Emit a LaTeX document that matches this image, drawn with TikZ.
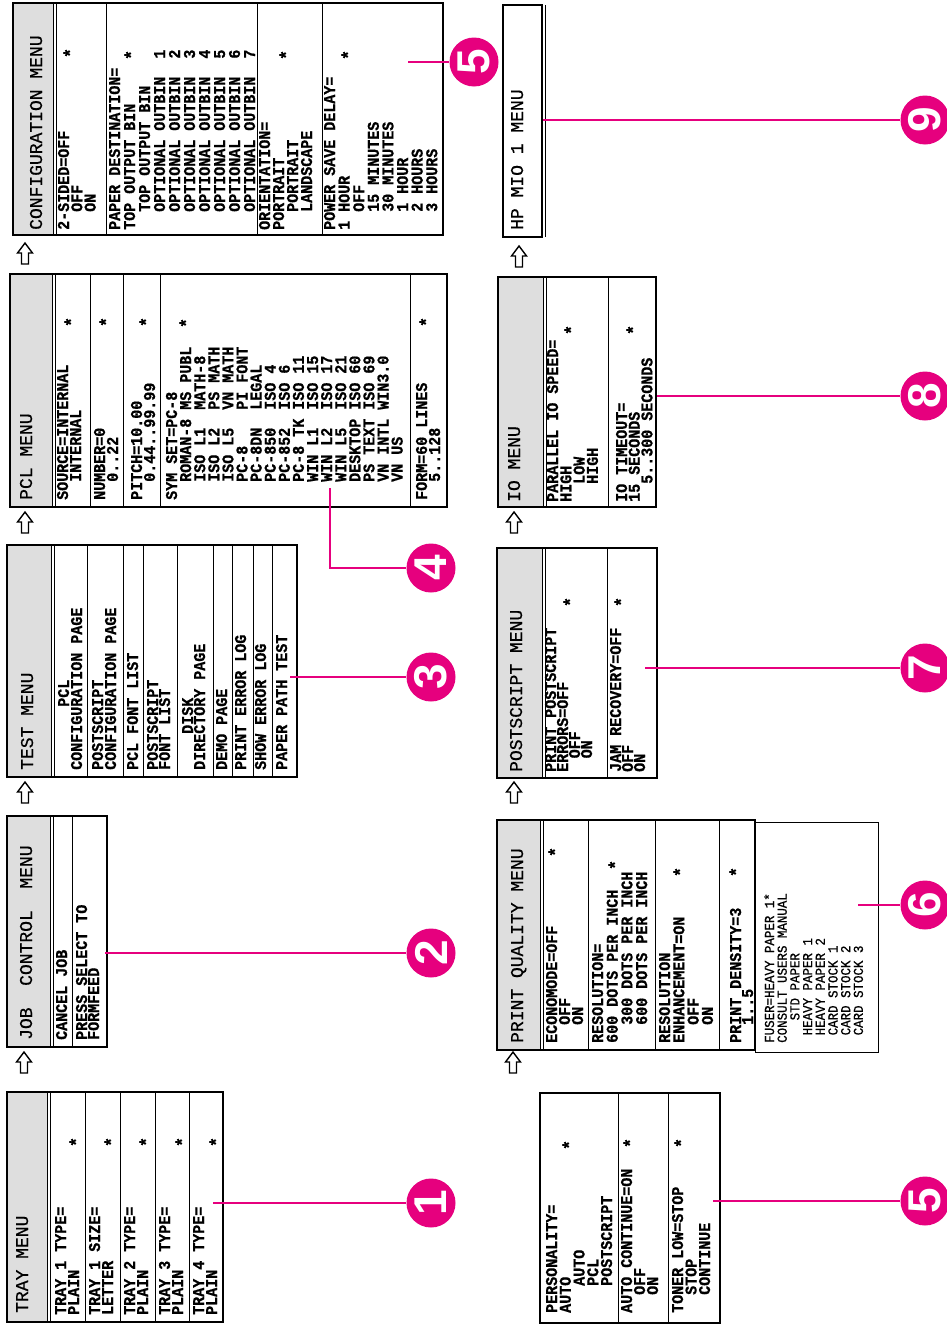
\documentclass[tikz,border=0pt]{standalone}
\usepackage{fontspec}
\setmonofont{Liberation Mono}
\newfontfamily\itemfont{Liberation Mono}[FakeBold=0.7, FakeStretch=0.91]
\newfontfamily\titlefont{Liberation Mono}[FakeBold=0.5]
\newfontfamily\numfont{Liberation Sans}
\definecolor{mag}{RGB}{230,0,126}
\newcommand\ind[1]{\hspace*{#1\fontcharwd\font`0}}
\newcommand\twocol[2]{\makebox[8\fontcharwd\font`0][l]{#1}#2}
\newcommand\rt[1]{\vtop{\lineskip=0pt\lineskiplimit=-\maxdimen\halign{##\hfil\cr#1\crcr}}}
\newcommand\menubox[5]{%
  \fill[shd] (#1,#2) rectangle (#5,#4);
  \draw[sepl] (#5,#2) -- (#5,#4);
  \draw[sepl] (#5+3,#2) -- (#5+3,#4);
  \draw[box] (#1,#2) rectangle (#3,#4);}
\newcommand\seps[3]{\foreach \s in {#3} {\draw[sepl] (\s,#1) -- (\s,#2);}}
\newcommand\uparr[2]{\draw[arr] (#1,#2) -- ++(7.5,10) -- ++(-4,0) -- ++(0,11) -- ++(-7,0) -- ++(0,-11) -- ++(-4,0) -- cycle;}
\begin{document}
\begin{tikzpicture}[x=1pt,y=-1pt,
  box/.style={draw=black, line width=1.3pt},
  sepl/.style={draw=black, line width=0.9pt},
  shd/.style={fill=black!13},
  ttl/.style={font=\titlefont\fontsize{18}{18}\selectfont, anchor=base west, rotate=90, inner sep=0pt},
  itm/.style={font=\itemfont\bfseries\fontsize{16.5}{#1}\selectfont, anchor=base west, rotate=90, inner sep=0pt},
  itm/.default=13.3,
  fus/.style={font=\itemfont\fontsize{13.7}{12.7}\selectfont, anchor=base west, rotate=90, inner sep=0pt},
  st/.style={font=\itemfont\bfseries\fontsize{18}{18}\selectfont, rotate=90, inner sep=0pt},
  num/.style={circle, fill=mag, minimum size=49pt, inner sep=0pt, text=white, font=\numfont\bfseries\fontsize{46}{46}\selectfont, rotate=90},
  lead/.style={draw=mag, line width=1.1pt},
  arr/.style={draw=black, line width=1.4pt, line join=miter}]
\useasboundingbox (0,0) rectangle (946,1325);
\fill[white] (0,0) rectangle (946,1325);

% ---------------- boxes ----------------
\menubox{7}{1092}{223}{1322}{47}
\seps{1092}{1322}{85,120,155,189}
\menubox{7}{816}{107}{1047}{50}
\seps{816}{1047}{72}
\menubox{7}{545}{297}{777}{51}
\seps{545}{777}{87,123,143,177,213,232,253,272}
\menubox{10}{274}{447}{507}{52}
\seps{274}{507}{90,123,160,410}
\menubox{13}{3}{443}{235}{53}
\seps{3}{235}{106,257,322}

\draw[box] (540,1093) rectangle (720,1323);
\seps{1093}{1323}{618,668}
\menubox{497}{820}{755}{1050}{540}
\seps{820}{1050}{588,655,719}
\draw[sepl] (755,822) rectangle (878,1052);
\menubox{497}{548}{657}{778}{542}
\seps{548}{778}{607}
\menubox{498}{277}{656}{507}{543}
\seps{277}{507}{608}
\draw[box] (503,5) rectangle (542,237);
\draw[sepl] (545,5) -- (545,237);

% ---------------- arrows ----------------
\uparr{24}{1052}
\uparr{25}{782}
\uparr{25}{512}
\uparr{25}{243}
\uparr{513}{1052}
\uparr{514}{782}
\uparr{514}{512}
\uparr{519}{246}

% ---------------- TRAY MENU ----------------
\node[ttl] (trayT) at (28,1313) {TRAY MENU};
\node[itm=13] (tray1) at (66,1315) {\rt{TRAY 1 TYPE=\cr PLAIN}};
\node[itm=13] (tray2) at (100,1315) {\rt{TRAY 1 SIZE=\cr LETTER}};
\node[itm=13] (tray3) at (135,1315) {\rt{TRAY 2 TYPE=\cr PLAIN}};
\node[itm=13] (tray4) at (170,1315) {\rt{TRAY 3 TYPE=\cr PLAIN}};
\node[itm=13] (tray5) at (204,1315) {\rt{TRAY 4 TYPE=\cr PLAIN}};
\node[st] (trayS1) at (76,1142) {*};
\node[st] (trayS2) at (111,1142) {*};
\node[st] (trayS3) at (146,1142) {*};
\node[st] (trayS4) at (182,1142) {*};
\node[st] (trayS5) at (216,1142) {*};

% ---------------- JOB CONTROL MENU ----------------
\node[ttl] (jobT) at (32,1040) {JOB\ind{2}CONTROL\ind{2}MENU};
\node[itm] (job1) at (67,1040) {\rt{CANCEL JOB}};
\node[itm=12] (job2) at (87,1040) {\rt{PRESS SELECT TO\cr FORMFEED}};

% ---------------- TEST MENU ----------------
\node[ttl] (testT) at (33,770) {TEST MENU};
\node[itm=13] (test1) at (69,770) {\rt{\ind{7}PCL\cr CONFIGURATION PAGE}};
\node[itm=13] (test2) at (103,770) {\rt{POSTSCRIPT\cr CONFIGURATION PAGE}};
\node[itm] (test3) at (138,770) {\rt{PCL FONT LIST}};
\node[itm=12] (test4) at (158,770) {\rt{POSTSCRIPT\cr FONT LIST}};
\node[itm=12] (test5) at (193,770) {\rt{\ind{4}DISK\cr DIRECTORY PAGE}};
\node[itm] (test6) at (227,770) {\rt{DEMO PAGE}};
\node[itm] (test7) at (246,770) {\rt{PRINT ERROR LOG}};
\node[itm] (test8) at (266,770) {\rt{SHOW ERROR LOG}};
\node[itm] (test9) at (287,770) {\rt{PAPER PATH TEST}};

% ---------------- PCL MENU ----------------
\node[ttl] (pclT) at (32,500) {PCL MENU};
\node[itm=13] (pcl1) at (68,500) {\rt{SOURCE=INTERNAL\cr \ind{2}INTERNAL}};
\node[itm=13] (pcl2) at (105,500) {\rt{NUMBER=0\cr \ind{2}0..22}};
\node[itm=13] (pcl3) at (142,500) {\rt{PITCH=10.00\cr \ind{2}0.44..99.99}};
\node[itm=14.1] (pcl4) at (177,500) {\rt{SYM SET=PC-8\cr
 \ind{2}\twocol{ROMAN-8}{MS PUBL}\cr
 \ind{2}\twocol{ISO L1}{MATH-8}\cr
 \ind{2}\twocol{ISO L2}{PS MATH}\cr
 \ind{2}\twocol{ISO L5}{VN MATH}\cr
 \ind{2}\twocol{PC-8}{PI FONT}\cr
 \ind{2}\twocol{PC-8DN}{LEGAL}\cr
 \ind{2}\twocol{PC-850}{ISO 4}\cr
 \ind{2}\twocol{PC-852}{ISO 6}\cr
 \ind{2}\twocol{PC-8 TK}{ISO 11}\cr
 \ind{2}\twocol{WIN L1}{ISO 15}\cr
 \ind{2}\twocol{WIN L2}{ISO 17}\cr
 \ind{2}\twocol{WIN L5}{ISO 21}\cr
 \ind{2}\twocol{DESKTOP}{ISO 60}\cr
 \ind{2}\twocol{PS TEXT}{ISO 69}\cr
 \ind{2}\twocol{VN INTL}{WIN3.0}\cr
 \ind{2}VN US}};
\node[itm=13] (pcl5) at (427,500) {\rt{FORM=60 LINES\cr \ind{2}5..128}};
\node[st] (pclS1) at (71,322) {*};
\node[st] (pclS2) at (106,322) {*};
\node[st] (pclS3) at (146,322) {*};
\node[st] (pclS4) at (186,323) {*};
\node[st] (pclS5) at (426,322) {*};

% ---------------- CONFIGURATION MENU ----------------
\node[ttl] (cfgT) at (42,230) {CONFIGURATION MENU};
\node[itm=13.3] (cfg1) at (69,230) {\rt{2-SIDED=OFF\cr \ind{2}OFF\cr \ind{2}ON}};
\node[itm=15] (cfg2) at (120,230) {\rt{PAPER DESTINATION=\cr TOP OUTPUT BIN\cr \ind{2}TOP OUTPUT BIN\cr
 \ind{2}OPTIONAL OUTBIN\ind{2}1\cr \ind{2}OPTIONAL OUTBIN\ind{2}2\cr \ind{2}OPTIONAL OUTBIN\ind{2}3\cr
 \ind{2}OPTIONAL OUTBIN\ind{2}4\cr \ind{2}OPTIONAL OUTBIN\ind{2}5\cr \ind{2}OPTIONAL OUTBIN\ind{2}6\cr
 \ind{2}OPTIONAL OUTBIN\ind{2}7}};
\node[itm=14] (cfg3) at (270,230) {\rt{ORIENTATION=\cr PORTRAIT\cr \ind{2}PORTRAIT\cr \ind{2}LANDSCAPE}};
\node[itm=14.6] (cfg4) at (335,230) {\rt{POWER SAVE DELAY=\cr 1 HOUR\cr \ind{2}OFF\cr \ind{2}15 MINUTES\cr
 \ind{2}30 MINUTES\cr \ind{2}1 HOUR\cr \ind{2}2 HOURS\cr \ind{2}3 HOURS}};
\node[st] (cfgS1) at (70,53) {*};
\node[st] (cfgS2) at (131,55) {*};
\node[st] (cfgS3) at (286,55) {*};
\node[st] (cfgS4) at (348,55) {*};

% ---------------- personality box ----------------
\node[itm=13.75] (per1) at (557,1313) {\rt{PERSONALITY=\cr AUTO\cr \ind{3}AUTO\cr \ind{3}PCL\cr \ind{3}POSTSCRIPT}};
\node[itm=13] (per2) at (632,1313) {\rt{AUTO CONTINUE=ON\cr \ind{2}OFF\cr \ind{2}ON}};
\node[itm=13.5] (per3) at (683,1313) {\rt{TONER LOW=STOP\cr \ind{2}STOP\cr \ind{2}CONTINUE}};
\node[st] (perS1) at (569,1145) {*};
\node[st] (perS2) at (630,1143) {*};
\node[st] (perS3) at (681,1143) {*};

% ---------------- PRINT QUALITY MENU ----------------
\node[ttl] (pqT) at (523,1043) {PRINT QUALITY MENU};
\node[itm=13] (pq1) at (557,1043) {\rt{ECONOMODE=OFF\cr \ind{2}OFF\cr \ind{2}ON}};
\node[itm=14.7] (pq2) at (603,1043) {\rt{RESOLUTION=\cr 600 DOTS PER INCH\cr \ind{2}300 DOTS PER INCH\cr \ind{2}600 DOTS PER INCH}};
\node[itm=14.3] (pq3) at (670,1043) {\rt{RESOLUTION\cr ENHANCEMENT=ON\cr \ind{2}OFF\cr \ind{2}ON}};
\node[itm=12] (pq4) at (741,1043) {\rt{PRINT DENSITY=3\cr \ind{2}1..5}};
\node[fus] (pq5) at (774,1043) {\rt{FUSER=HEAVY PAPER 1*\cr CONSULT USERS MANUAL\cr \ind{3}STD PAPER\cr
 \ind{1}HEAVY PAPER 1\cr \ind{1}HEAVY PAPER 2\cr \ind{1}CARD STOCK 1\cr \ind{1}CARD STOCK 2\cr \ind{1}CARD STOCK 3}};
\node[st] (pqS1) at (555,852) {*};
\node[st] (pqS2) at (615,865) {*};
\node[st] (pqS3) at (680,872) {*};
\node[st] (pqS4) at (736,872) {*};

% ---------------- POSTSCRIPT MENU ----------------
\node[ttl] (psT) at (522,772) {POSTSCRIPT MENU};
\node[itm=12] (ps1) at (556,772) {\rt{PRINT POSTSCRIPT\cr ERRORS=OFF\cr \ind{1.5}OFF\cr \ind{1.5}ON}};
\node[itm=12] (ps2) at (621,772) {\rt{JAM RECOVERY=OFF\cr OFF\cr ON}};
\node[st] (psS1) at (570,602) {*};
\node[st] (psS2) at (621,602) {*};

% ---------------- IO MENU ----------------
\node[ttl] (ioT) at (520,502) {IO MENU};
\node[itm=13.3] (io1) at (558,502) {\rt{PARALLEL IO SPEED=\cr HIGH\cr \ind{2}LOW\cr \ind{2}HIGH}};
\node[itm=12.7] (io2) at (627,502) {\rt{IO TIMEOUT=\cr 15 SECONDS\cr \ind{2}5..300 SECONDS}};
\node[st] (ioS1) at (571,330) {*};
\node[st] (ioS2) at (633,330) {*};

% ---------------- HP MIO 1 MENU ----------------
\node[ttl] (mioT) at (523,230) {HP MIO 1 MENU};

% ---------------- callouts ----------------
\coordinate (l1) at (213,1203);
\coordinate (l2) at (105,953);
\coordinate (l3) at (290,677);
\coordinate (l4) at (330,488);
\coordinate (l5a) at (408,62);
\coordinate (l9) at (543,120);
\coordinate (l8) at (657,396);
\coordinate (l7) at (645,668);
\coordinate (l6) at (858,905);
\coordinate (l5b) at (713,1201);
\node[num] (n1) at (431,1203) {1};
\node[num] (n2) at (431,953) {2};
\node[num] (n3) at (431,677) {3};
\node[num] (n4) at (431,568) {4};
\node[num] (n5a) at (474,62) {5};
\node[num] (n9) at (925,120) {9};
\node[num] (n8) at (925,396) {8};
\node[num] (n7) at (925,668) {7};
\node[num] (n6) at (925,905) {6};
\node[num] (n5b) at (925,1201) {5};
\draw[lead] (l1) -- (n1);
\draw[lead] (l2) -- (n2);
\draw[lead] (l3) -- (n3);
\draw[lead] (l4) |- (n4);
\draw[lead] (l5a) -- (n5a);
\draw[lead] (l9) -- (n9);
\draw[lead] (l8) -- (n8);
\draw[lead] (l7) -- (n7);
\draw[lead] (l6) -- (n6);
\draw[lead] (l5b) -- (n5b);
\end{tikzpicture}
\end{document}
